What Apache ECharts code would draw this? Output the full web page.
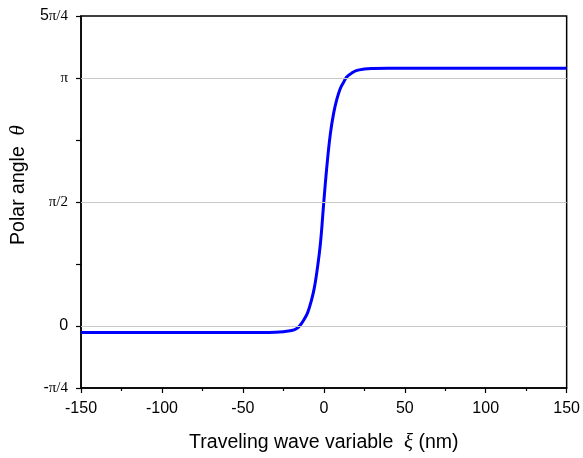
<!DOCTYPE html>
<html>
<head>
<meta charset="utf-8">
<script src="https://cdn.jsdelivr.net/npm/echarts@6/dist/echarts.min.js"></script>
<style>html,body{margin:0;padding:0;background:#fff;}#c{width:583px;height:458px;}</style>
</head>
<body>
<div id="c"></div>
<script>
// Traveling wave variable xi (nm)
const xi = [-150, -100, -60, -40, -30, -25, -20, -17, -15, -12, -10, -8, -6, -4, -2, 0, 2, 4, 6, 8, 10, 12, 14, 17, 20, 25, 30, 40, 60, 100, 150];
// Polar angle theta (rad)
const theta = [-0.082, -0.082, -0.082, -0.081, -0.078, -0.072, -0.058, -0.035, 0.0, 0.09, 0.17, 0.30, 0.47, 0.73, 1.07, 1.58, 2.05, 2.43, 2.69, 2.87, 3.00, 3.08, 3.15, 3.20, 3.235, 3.255, 3.262, 3.265, 3.265, 3.265, 3.265];
// y tick labels at multiples of pi/4 from -pi/4 to 5pi/4
const yTickLabels = ['-π/4', '0', '', 'π/2', '', 'π', '5π/4'];
const xTicks = [-150, -100, -50, 0, 50, 100, 150];
const gridAt = [0, 2, 4]; // in units of pi/4

const Q = Math.PI / 4;
const seriesData = xi.map((x, i) => [x, theta[i] / Q]);

function yLab(v) {
  const k = Math.round(v);
  const s = yTickLabels[k + 1] || '';
  if (!s) return '';
  if (s === '0') return '{s|0}';
  if (s === '-π/4') return '{s|-}{p|π/4}';
  if (s === '5π/4') return '{s|5}{p|π/4}';
  return '{p|' + s + '}';
}

const chart = echarts.init(document.getElementById('c'), null, {renderer: 'canvas'});
chart.setOption({
  animation: false,
  backgroundColor: '#fff',
  grid: {left: 79, right: 16, top: 16, bottom: 69, show: true, borderColor: '#000', borderWidth: 1.5, backgroundColor: 'transparent'},
  xAxis: {
    type: 'value', min: xTicks[0], max: xTicks[xTicks.length - 1], interval: 50,
    axisLine: {show: true, onZero: false, lineStyle: {color: '#000', width: 1.5}},
    axisTick: {show: true, inside: false, length: 5, lineStyle: {color: '#000', width: 1.2}},
    minorTick: {show: true, splitNumber: 2, length: 3, lineStyle: {color: '#000', width: 1.2}},
    splitLine: {show: false},
    axisLabel: {color: '#000', fontSize: 16, fontFamily: 'Liberation Sans, Arial, sans-serif', margin: 13},
    name: '{a|Traveling wave variable  }{b|ξ}{a| (nm)}',
    nameLocation: 'middle', nameGap: 44,
    nameTextStyle: {rich: {
      a: {fontSize: 19.5, fontFamily: 'Liberation Sans, Arial, sans-serif', color: '#000'},
      b: {fontSize: 21, fontFamily: 'Liberation Serif, Times New Roman, serif', fontStyle: 'italic', color: '#000'}
    }}
  },
  yAxis: {
    type: 'value', min: -1, max: 5, interval: 1,
    axisLine: {show: true, onZero: false, lineStyle: {color: '#000', width: 1.5}},
    axisTick: {show: true, inside: false, length: 5, lineStyle: {color: '#000', width: 1.2}},
    splitLine: {show: false},
    axisLabel: {
      margin: 13, formatter: yLab,
      rich: {
        s: {fontSize: 16, fontFamily: 'Liberation Sans, Arial, sans-serif', color: '#000'},
        p: {fontSize: 15, fontFamily: 'Liberation Serif, Times New Roman, serif', color: '#000'}
      }
    },
    name: '{a|Polar angle  }{b|θ}',
    nameLocation: 'middle', nameGap: 52,
    nameTextStyle: {padding: [0, 0, 0, 34], rich: {
      a: {fontSize: 19.5, fontFamily: 'Liberation Sans, Arial, sans-serif', color: '#000'},
      b: {fontSize: 21, fontFamily: 'Liberation Serif, Times New Roman, serif', fontStyle: 'italic', color: '#000'}
    }}
  },
  series: [{
    type: 'line', data: seriesData, smooth: 0.4, showSymbol: false,
    lineStyle: {color: '#0000ff', width: 3},
    z: 3,
    markLine: {
      silent: true, symbol: 'none', label: {show: false},
      lineStyle: {color: '#c8c8c8', width: 1, type: 'solid'},
      data: gridAt.map(g => ({yAxis: g}))
    }
  }]
});
</script>
</body>
</html>
